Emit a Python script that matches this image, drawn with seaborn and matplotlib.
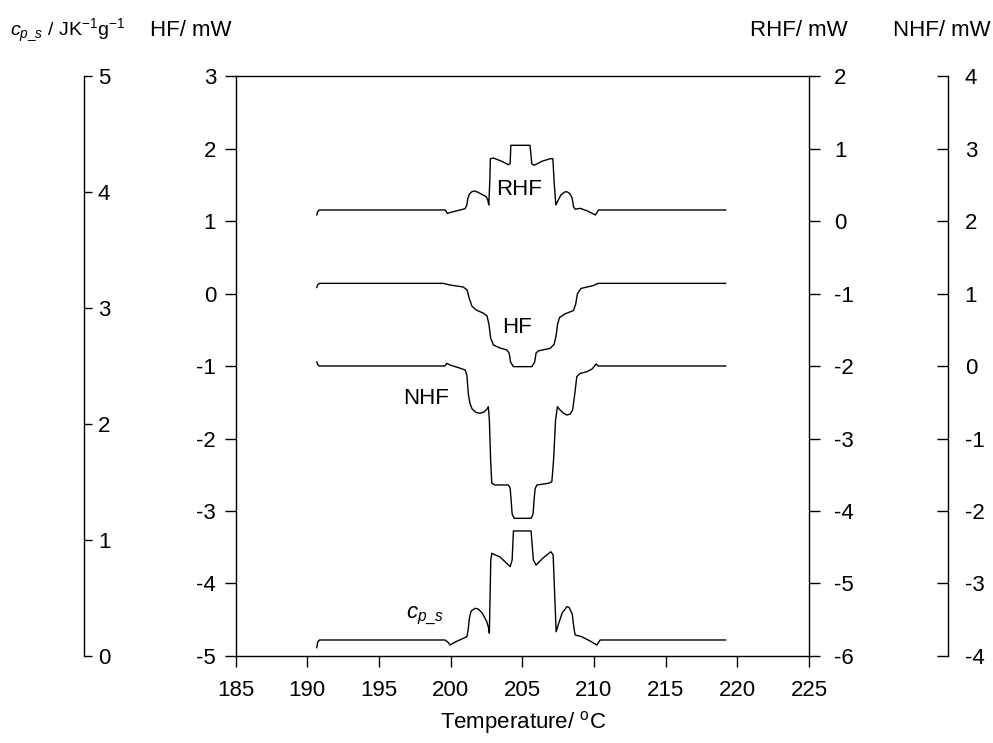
import matplotlib
matplotlib.use('Agg')
import matplotlib.pyplot as plt
import seaborn as sns

# ---------------- data ----------------
# Heat flow (HF, mW) -- left main axis
T_hf = [190.66, 190.72, 190.85, 199.47, 199.96, 200.87, 201.15, 201.29, 201.48, 201.78,
        202.26, 202.54, 202.68, 202.79, 202.98, 203.45, 203.92, 204.08, 204.18, 204.38,
        205.66, 205.86, 205.96, 206.14, 206.94, 207.22, 207.36, 207.46, 207.60, 207.99,
        208.57, 208.72, 208.85, 209.10, 209.96, 210.29, 219.2]
HF = [0.08, 0.12, 0.14, 0.14, 0.117, 0.09, 0.048, -0.062, -0.172, -0.228,
      -0.269, -0.31, -0.434, -0.614, -0.71, -0.752, -0.779, -0.821, -0.945, -1.009,
      -1.009, -0.945, -0.821, -0.79, -0.757, -0.70, -0.58, -0.42, -0.33, -0.28,
      -0.235, -0.15, 0.0, 0.07, 0.11, 0.14, 0.14]

# Reversing heat flow (RHF, mW) -- right axis
T_rhf = [190.66, 190.72, 190.85, 199.62, 199.77, 200.19, 200.66, 201.01, 201.13, 201.20,
         201.31, 201.48, 201.64, 201.87, 202.17, 202.47, 202.59, 202.66, 202.73, 202.77,
         202.98, 203.57, 204.03, 204.15, 204.20, 205.54, 205.66, 205.82, 206.36, 206.94,
         207.13, 207.22, 207.34, 207.45, 207.69, 207.99, 208.15, 208.34, 208.48, 208.57,
         208.69, 209.03, 209.50, 209.96, 210.10, 210.31, 219.2]
RHF = [0.08, 0.13, 0.152, 0.152, 0.106, 0.129, 0.152, 0.170, 0.221, 0.313,
       0.372, 0.404, 0.414, 0.40, 0.368, 0.336, 0.29, 0.221, 0.538, 0.859,
       0.869, 0.823, 0.776, 0.79, 1.044, 1.044, 0.79, 0.768, 0.823, 0.859,
       0.859, 0.538, 0.221, 0.267, 0.359, 0.404, 0.40, 0.372, 0.313, 0.198,
       0.162, 0.175, 0.142, 0.097, 0.083, 0.152, 0.152]

# Non-reversing heat flow (NHF, mW) -- far right axis
T_nhf = [190.66, 190.72, 190.85, 199.6, 199.73, 199.96, 200.52, 201.01, 201.13, 201.24,
         201.36, 201.50, 201.78, 202.05, 202.33, 202.54, 202.63, 202.70, 202.79, 202.87,
         203.1, 204.03, 204.15, 204.22, 204.29, 204.43, 205.61, 205.75, 205.82, 205.89,
         206.01, 206.82, 207.06, 207.18, 207.32, 207.45, 207.57, 207.85, 208.11, 208.34,
         208.51, 208.65, 208.80, 209.03, 209.50, 209.87, 210.15, 210.31, 219.2]
NHF = [0.06, 0.02, 0.0, 0.0, 0.037, 0.014, -0.021, -0.055, -0.124, -0.40,
       -0.524, -0.593, -0.641, -0.652, -0.634, -0.593, -0.561, -0.745, -1.297, -1.618,
       -1.641, -1.641, -1.683, -1.848, -2.041, -2.101, -2.101, -2.041, -1.848, -1.697,
       -1.641, -1.618, -1.596, -1.297, -0.745, -0.561, -0.593, -0.648, -0.676, -0.662,
       -0.607, -0.40, -0.148, -0.103, -0.079, -0.041, 0.028, 0.0, 0.0]

# Specific heat capacity (cp_s, J K-1 g-1) -- far left axis
T_cp = [190.66, 190.72, 190.85, 199.6, 199.8, 199.96, 200.31, 201.13, 201.22, 201.31,
        201.43, 201.71, 201.92, 202.2, 202.52, 202.65, 202.70, 202.80, 202.87, 203.45,
        204.15, 204.29, 204.38, 205.61, 205.77, 205.96, 206.45, 206.99, 207.15, 207.36,
        207.5, 207.78, 208.11, 208.27, 208.48, 208.62, 208.69, 209.15, 209.73, 210.2,
        210.43, 219.2]
CP = [0.07, 0.12, 0.138, 0.138, 0.12, 0.095, 0.12, 0.166, 0.224, 0.328,
      0.388, 0.411, 0.405, 0.371, 0.296, 0.241, 0.196, 0.828, 0.885, 0.853,
      0.77, 0.828, 1.078, 1.078, 0.828, 0.784, 0.845, 0.899, 0.871, 0.209,
      0.267, 0.371, 0.425, 0.418, 0.362, 0.224, 0.181, 0.166, 0.129, 0.095,
      0.138, 0.138]

# axis settings
x_ticks = [185, 190, 195, 200, 205, 210, 215, 220, 225]
hf_ticks = [-5, -4, -3, -2, -1, 0, 1, 2, 3]
rhf_ticks = [-6, -5, -4, -3, -2, -1, 0, 1, 2]
cp_ticks = [0, 1, 2, 3, 4, 5]
nhf_ticks = [-4, -3, -2, -1, 0, 1, 2, 3, 4]

# ---------------- style ----------------
sns.set_theme(style='ticks')
plt.rcParams['font.family'] = ['Liberation Sans', 'DejaVu Sans']
plt.rcParams['mathtext.fontset'] = 'custom'
plt.rcParams['mathtext.rm'] = 'Liberation Sans'
plt.rcParams['mathtext.it'] = 'Liberation Sans:italic'
plt.rcParams['mathtext.bf'] = 'Liberation Sans:bold'
plt.rcParams['axes.unicode_minus'] = False
plt.rcParams['axes.edgecolor'] = 'black'
plt.rcParams['xtick.color'] = 'black'
plt.rcParams['ytick.color'] = 'black'
plt.rcParams['text.color'] = 'black'

FS = 16
fig = plt.figure(figsize=(9.93, 7.43), dpi=100)
ax = fig.add_axes([0.2373, 0.1171, 0.5774, 0.7806])
ax_r = ax.twinx()
ax_cp = ax.twinx()
ax_n = ax.twinx()

kw = dict(color='black', linewidth=1.0, sort=False, estimator=None)
sns.lineplot(x=T_hf, y=HF, ax=ax, **kw)
sns.lineplot(x=T_rhf, y=RHF, ax=ax_r, **kw)
sns.lineplot(x=T_cp, y=CP, ax=ax_cp, **kw)
sns.lineplot(x=T_nhf, y=NHF, ax=ax_n, **kw)

ax.set_xlim(185, 225)
ax.set_ylim(-5, 3)
ax_r.set_ylim(-6, 2)
ax_cp.set_ylim(0, 5)
ax_n.set_ylim(-4, 4)
ax.set_xticks(x_ticks)
ax.set_yticks(hf_ticks)
ax_r.set_yticks(rhf_ticks)
ax_cp.set_yticks(cp_ticks)
ax_n.set_yticks(nhf_ticks)
for a in (ax, ax_r, ax_cp, ax_n):
    a.set_xlabel('')
    a.set_ylabel('')

# spines
ax.spines['right'].set_visible(False)
for a in (ax_r, ax_cp, ax_n):
    for s in ('top', 'bottom', 'left'):
        a.spines[s].set_visible(False)
for a in (ax, ax_r, ax_cp, ax_n):
    for s in a.spines.values():
        s.set_linewidth(1.0)
        s.set_color('black')
ax_cp.spines['right'].set_position(('axes', -0.2644))
ax_n.spines['right'].set_position(('axes', 1.2424))

ax.tick_params(axis='x', direction='out', length=8, width=1, labelsize=FS, pad=9)
ax.tick_params(axis='y', direction='out', length=8, width=1, labelsize=FS, pad=6)
ax_r.tick_params(axis='y', direction='out', length=8, width=1, labelsize=FS, pad=10)
ax_cp.tick_params(axis='y', direction='out', length=6, width=1, labelsize=FS, pad=4)
ax_n.tick_params(axis='y', direction='in', length=8, width=1, labelsize=FS, pad=12)

# curve labels
ax.text(204.8, 1.43, 'RHF', fontsize=FS, ha='center', va='center')
ax.text(204.65, -0.47, 'HF', fontsize=FS, ha='center', va='center')
ax.text(198.3, -1.45, 'NHF', fontsize=FS, ha='center', va='center')
ax.text(198.2, -4.45, r'$c_{p\_s}$', fontsize=FS, ha='center', va='center')

# axis titles
fig.text(10 / 993, 1 - 30 / 743, r'$c_{p\_s}$ / JK$^{-1}$g$^{-1}$', fontsize=14, ha='left', va='center')
fig.text(150 / 993, 1 - 30 / 743, 'HF/ mW', fontsize=FS, ha='left', va='center')
fig.text(848 / 993, 1 - 30 / 743, 'RHF/ mW', fontsize=FS, ha='right', va='center')
fig.text(893 / 993, 1 - 30 / 743, 'NHF/ mW', fontsize=FS, ha='left', va='center')
fig.text(523 / 993, 1 - 722 / 743, r'Temperature/ $^{\mathrm{o}}$C', fontsize=FS, ha='center', va='center')

fig.savefig('out.png', dpi=100)
